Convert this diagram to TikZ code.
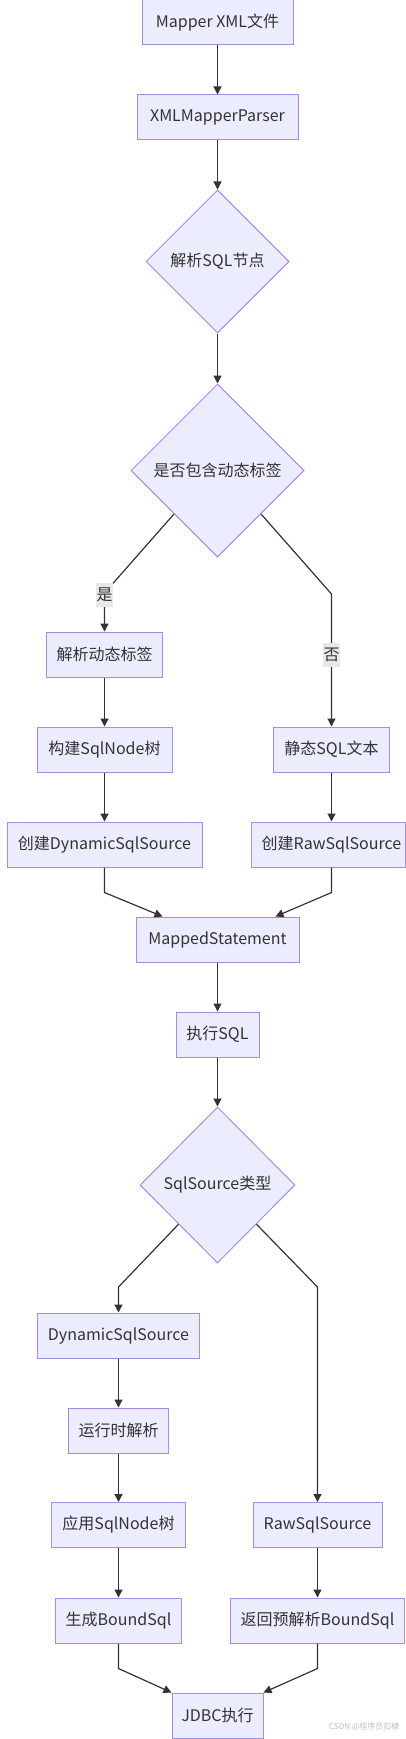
\documentclass[tikz,border=0pt]{standalone}
\usepackage{fontspec}
\setmainfont{Noto Sans CJK SC}
\usetikzlibrary{shapes.geometric,arrows.meta,calc}
\definecolor{nodefill}{HTML}{ECECFF}
\definecolor{nodeline}{HTML}{A98BE3}
\definecolor{txt}{HTML}{333333}
\definecolor{lblbg}{HTML}{E8E8E8}
\begin{document}
\begin{tikzpicture}[x=1pt,y=-1pt,
  every node/.style={font=\fontsize{16}{18}\selectfont, text=txt},
  box/.style={draw=nodeline, fill=nodefill, line width=1pt, rectangle, inner sep=0pt, minimum height=45pt},
  dia/.style={draw=nodeline, fill=nodefill, line width=1pt, diamond, aspect=1, inner sep=0pt},
  edge/.style={draw=txt, line width=1.2pt, -{Triangle[length=8pt,width=8pt]}},
  lbl/.style={fill=lblbg, inner sep=0.5pt, minimum width=15pt, minimum height=24pt}]
\useasboundingbox (0,0) rectangle (406,1739);
\fill[white] (0,0) rectangle (406,1739);
% nodes
\node[box, minimum width=151pt] (n1) at (217.5,22.5) {Mapper XML文件};
\node[box, minimum width=161pt] (n2) at (217.5,117.5) {XMLMapperParser};
\node[dia, minimum width=143pt, minimum height=143pt] (d1) at (217.5,261.5) {解析SQL节点};
\node[dia, minimum width=173pt, minimum height=173pt] (d2) at (217.5,470.5) {是否包含动态标签};
\node[box, minimum width=116pt] (a1) at (104.5,654.5) {解析动态标签};
\node[box, minimum width=135pt] (a2) at (104.5,749.5) {构建SqlNode树};
\node[box, minimum width=116pt] (b1) at (331.5,749.5) {静态SQL文本};
\node[box, minimum width=195pt] (a3) at (104.5,844.5) {创建DynamicSqlSource};
\node[box, minimum width=154pt] (b2) at (328,844.5) {};
\node (b2t) at (331.5,844.5) {创建RawSqlSource};
\node[box, minimum width=163pt] (ms) at (217.5,939.5) {MappedStatement};
\node[box, minimum width=83pt] (ex) at (217.5,1034.5) {执行SQL};
\node[dia, minimum width=155pt, minimum height=156pt] (d3) at (217.5,1185) {SqlSource类型};
\node[box, minimum width=162pt] (c1) at (118.5,1335.5) {DynamicSqlSource};
\node[box, minimum width=100pt] (c2) at (118.5,1430.5) {运行时解析};
\node[box, minimum width=134pt] (c3) at (118.5,1525) {应用SqlNode树};
\node[box, minimum width=126pt] (c4) at (118.5,1620.5) {生成BoundSql};
\node[box, minimum width=129pt] (r1) at (317.5,1525) {RawSqlSource};
\node[box, minimum width=174pt] (r2) at (317.5,1620.5) {返回预解析BoundSql};
\node[box, minimum width=91pt] (jd) at (217.5,1715.5) {JDBC执行};
% edges
\draw[edge] (n1.south) -- (n2.north);
\draw[edge] (n2.south) -- (d1.north);
\draw[edge] (d1.south) -- (d2.north);
\draw[edge] (d2.south west) -- (104.5,593) -- (a1.north);
\draw[edge] (d2.south east) -- (331.5,594) -- (b1.north);
\node[lbl] (ly) at (104.5,595) {是};
\node[lbl] (ln) at (331.5,655) {否};
\draw[edge] (a1.south) -- (a2.north);
\draw[edge] (a2.south) -- (a3.north);
\draw[edge] (b1.south) -- (b1.south |- b2.north);
\draw[edge] (a3.south) -- ++(0,25) -- ([xshift=27pt]ms.north west);
\draw[edge] (b1.south |- b2.south) -- ++(0,25) -- ([xshift=-24pt]ms.north east);
\draw[edge] (ms.south) -- (ex.north);
\draw[edge] (ex.south) -- (d3.north);
\draw[edge] (d3.south west) -- (118.5,1287) -- (c1.north);
\draw[edge] (d3.south east) -- (317.5,1287) -- (r1.north);
\draw[edge] (c1.south) -- (c2.north);
\draw[edge] (c2.south) -- (c3.north);
\draw[edge] (c3.south) -- (c4.north);
\draw[edge] (r1.south) -- (r2.north);
\draw[edge] (c4.south) -- ++(0,25) -- (jd.north west);
\draw[edge] (r2.south) -- ++(0,25) -- (jd.north east);
\node[font=\fontsize{8}{9}\selectfont, text=black!25, anchor=east] (wm) at (403,1727) {CSDN @程序员扣棣};
\end{tikzpicture}
\end{document}
